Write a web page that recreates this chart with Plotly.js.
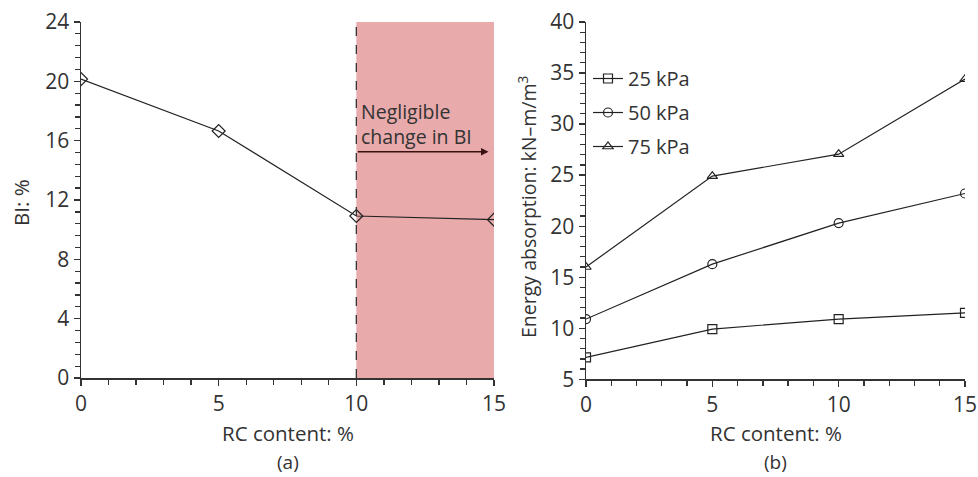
<!DOCTYPE html>
<html>
<head>
<meta charset="utf-8">
<script src="https://cdn.plot.ly/plotly-3.0.1.min.js"></script>
<style>html,body{margin:0;padding:0;background:#fff;}#chart{width:978px;height:477px;}</style>
</head>
<body>
<div id="chart"></div>
<script>
// Panel (a)
const rcContent = [0, 5, 10, 15];
const biValues = [20.15, 16.65, 10.92, 10.67];
// Panel (b)
const seriesNames = ['25 kPa', '50 kPa', '75 kPa'];
const energy25 = [7.15, 9.92, 10.9, 11.5];
const energy50 = [10.9, 16.28, 20.3, 23.2];
const energy75 = [16.0, 24.9, 27.05, 34.4];
const seriesSymbols = ['square-open', 'circle-open', 'triangle-up-open'];

const FONT = '"Open Sans", "Noto Sans", sans-serif';
const FS = 19.5;
const TICKFS = 21;
const TITLEFS = 20.5;
const TXT = '#333';
const LINE = '#222';

const traces = [
  {x: rcContent, y: biValues, xaxis: 'x', yaxis: 'y', mode: 'lines+markers', showlegend: false,
   line: {color: LINE, width: 1.2}, marker: {symbol: 'diamond-open', size: 10, color: LINE, line: {width: 1.2}}}
];
[energy25, energy50, energy75].forEach((ys, i) => {
  traces.push({x: rcContent, y: ys, xaxis: 'x2', yaxis: 'y2', mode: 'lines+markers', name: seriesNames[i],
    legendgroup: 'g' + i,
    line: {color: LINE, width: 1.2}, marker: {symbol: seriesSymbols[i], size: 9, color: LINE, line: {width: 1.2}}});
});

const axBase = {
  showgrid: false, zeroline: false, showline: true, linecolor: '#333', linewidth: 1.5,
  ticks: 'outside', ticklen: 6, tickwidth: 1.3, tickcolor: '#333',
  tickfont: {family: FONT, size: TICKFS, color: TXT}, fixedrange: true
};

const layout = {
  width: 978, height: 477,
  margin: {l: 0, r: 0, t: 0, b: 0},
  paper_bgcolor: '#fff', plot_bgcolor: 'rgba(0,0,0,0)',
  font: {family: FONT, color: TXT, size: FS},
  xaxis: Object.assign({}, axBase, {domain: [81/978, 494/978], range: [0, 15], tickvals: [0, 5, 10, 15],
    minor: {dtick: 1, ticks: 'outside', ticklen: 5, tickcolor: '#333'}, anchor: 'y'}),
  yaxis: Object.assign({}, axBase, {domain: [0.2075, 0.954], range: [0, 24], tickvals: [0, 4, 8, 12, 16, 20, 24],
    minor: {dtick: 0.8, ticks: 'outside', ticklen: 5, tickcolor: '#333'}, anchor: 'x'}),
  xaxis2: Object.assign({}, axBase, {domain: [586/978, 965/978], range: [0, 15], tickvals: [0, 5, 10, 15],
    minor: {dtick: 1, ticks: 'outside', ticklen: 5, tickcolor: '#333'}, anchor: 'y2'}),
  yaxis2: Object.assign({}, axBase, {domain: [0.2048, 0.954], range: [5, 40], tickvals: [5, 10, 15, 20, 25, 30, 35, 40],
    minor: {dtick: 1, ticks: 'outside', ticklen: 5, tickcolor: '#333'}, anchor: 'x2'}),
  showlegend: true,
  legend: {x: 588/978, y: 1 - 59/477, xanchor: 'left', yanchor: 'top', bgcolor: 'rgba(0,0,0,0)',
    font: {family: FONT, size: 20, color: TXT}, itemwidth: 30, tracegroupgap: 5},
  shapes: [
    {type: 'rect', xref: 'x', yref: 'y', x0: 10, x1: 15, y0: 0, y1: 24, fillcolor: '#e8aaab', line: {width: 0}, layer: 'below'},
    {type: 'line', xref: 'x', yref: 'y', x0: 10, x1: 10, y0: 0, y1: 24, line: {color: '#333', width: 1.3, dash: 'dash'}}
  ],
  annotations: [
    {xref: 'x', yref: 'y', x: 14.8, y: 15.25, ax: 10, ay: 15.25, axref: 'x', ayref: 'y', text: '',
     showarrow: true, arrowhead: 2, arrowsize: 1, arrowwidth: 1.5, arrowcolor: '#3a1010'},
    {xref: 'x', yref: 'y', x: 10, y: 19.0, xshift: 3, xanchor: 'left', yanchor: 'top', align: 'left',
     text: 'Negligible<br>change in BI', showarrow: false, font: {family: FONT, size: FS, color: TXT}},
    {xref: 'paper', yref: 'paper', x: 21/978, y: (477-203)/477, text: 'BI: %', textangle: -90, showarrow: false,
     xanchor: 'center', yanchor: 'middle', font: {family: FONT, size: TITLEFS, color: TXT}},
    {xref: 'paper', yref: 'paper', x: 527/978, y: (477-207)/477, text: 'Energy absorption: kN–m/m<sup>3</sup>', textangle: -90, showarrow: false,
     xanchor: 'center', yanchor: 'middle', font: {family: FONT, size: 19.5, color: TXT}},
    {xref: 'paper', yref: 'paper', x: 287.5/978, y: 1 - 433/477, text: 'RC content: %', showarrow: false,
     xanchor: 'center', yanchor: 'middle', font: {family: FONT, size: TITLEFS, color: TXT}},
    {xref: 'paper', yref: 'paper', x: 775.5/978, y: 1 - 433/477, text: 'RC content: %', showarrow: false,
     xanchor: 'center', yanchor: 'middle', font: {family: FONT, size: TITLEFS, color: TXT}},
    {xref: 'paper', yref: 'paper', x: 287.5/978, y: 1 - 462/477, text: '(a)', showarrow: false, borderpad: 0,
     xanchor: 'center', yanchor: 'middle', font: {family: FONT, size: 19, color: TXT}},
    {xref: 'paper', yref: 'paper', x: 775.5/978, y: 1 - 462/477, text: '(b)', showarrow: false, borderpad: 0,
     xanchor: 'center', yanchor: 'middle', font: {family: FONT, size: 19, color: TXT}}
  ]
};

Plotly.newPlot('chart', traces, layout, {displayModeBar: false, staticPlot: true});
</script>
</body>
</html>
